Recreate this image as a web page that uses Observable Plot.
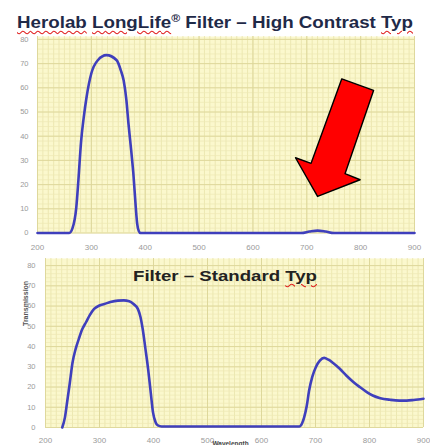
<!DOCTYPE html>
<html><head><meta charset="utf-8">
<script src="https://cdn.jsdelivr.net/npm/d3@7"></script>
<script src="https://cdn.jsdelivr.net/npm/@observablehq/plot@0.6"></script>
<style>
body{margin:0;background:#fff;width:430px;height:445px;overflow:hidden;position:relative;font-family:"Liberation Sans",Arial,sans-serif}
.t{position:absolute;white-space:nowrap;font-weight:bold;transform-origin:0 0}
.sp{text-decoration:underline wavy #e02020;text-decoration-thickness:1px;text-underline-offset:2px}
#top,#bot{position:absolute;left:0}
</style></head><body>
<div id="top" style="top:30px"></div>
<div id="bot" style="top:255px"></div>
<div class="t" id="t1" style="left:17px;top:14px;font-size:17px;line-height:17px;color:#1f2a48"><span class="sp">Herolab</span> <span class="sp">LongLife</span><span style="font-size:11px;vertical-align:6px;line-height:0">®</span> Filter – High Contrast <span class="sp">Typ</span></div>
<div class="t" id="t2" style="left:133px;top:268px;font-size:15px;line-height:15px;color:#222">Filter – Standard <span class="sp">Typ</span></div>
<script>
// ---- data ----
const xTicks = [200, 300, 400, 500, 600, 700, 800, 900];
const yTicks = [0, 10, 20, 30, 40, 50, 60, 70, 80];

// High Contrast Typ
const wlTop  = [200, 240, 255, 259, 265, 272, 276, 281, 286, 291, 300, 312, 328, 347, 355, 360, 365, 369, 374, 378, 382, 385, 388, 391, 420, 690, 705, 720, 735, 750, 900];
const valTop = [0,   0,   0,   0,   2,   10.5, 22, 38,  48,  56,  66,  71.4, 73.5, 71.4, 67, 63,  55,  45,  34,  24.5, 12, 4,   0.8, 0,   0,   0,   0.6, 1,   0.6, 0,   0];

// Standard Typ
const wlBot  = [231, 236, 240, 245, 250, 256, 262, 268, 275, 282, 290, 300, 309, 320, 334, 345, 355, 363, 371, 376, 380, 385, 390, 395, 399, 404, 408, 415, 670, 675, 679, 684, 688, 694, 701, 708, 716, 724, 732, 745, 757, 770, 782, 795, 806, 820, 838, 855, 869, 882, 894, 900];
const valBot = [0,   5,   12.5, 22, 32,  39,  44,  48.5, 52, 55.5, 58.6, 60.3, 61, 62,  62.7, 62.8, 62.4, 61, 58.6, 54.5, 48.7, 39, 29,  17,  7.6, 2.5, 1,   0.5, 0.5, 2,   5,   11,  18,  25,  30,  33,  34.4, 33.5, 32, 29,  25.7, 22.5, 20,  17.5, 15.8, 14.5, 13.7, 13.3, 13.3, 13.6, 14, 14.2];

// red arrow annotation (wavelength, transmission) in the top panel
const arrowWl  = [765, 824, 771, 799, 720, 679, 708, 765];
const arrowVal = [63.7, 58.9, 24.5, 22, 15.1, 31.1, 28.8, 63.7];

const topData = wlTop.map((w, i) => ({w, v: valTop[i]}));
const botData = wlBot.map((w, i) => ({w, v: valBot[i]}));
const arrowData = arrowWl.map((w, i) => ({w, v: arrowVal[i]}));

const minorX = d3.range(200, 901, 10);
const minorY = d3.range(0, 82, 2);
const font = "Liberation Sans, Arial, sans-serif";
const lineColor = "#3f3fbc";

function panel({data, width, height, mL, mR, mT, mB, yMax, extra = [], padX, padY}) {
  return Plot.plot({
    width, height, marginLeft: mL, marginRight: mR, marginTop: mT, marginBottom: mB,
    style: {fontFamily: font, background: "transparent", overflow: "visible"},
    x: {domain: [200, 900], label: null},
    y: {domain: [0, yMax], label: null},
    marks: [
      Plot.frame({fill: "#fbf8cd", stroke: null}),
      Plot.ruleX(minorX, {stroke: "#e9e3ab", strokeWidth: 0.8}),
      Plot.ruleY(minorY, {stroke: "#eee8b4", strokeWidth: 0.7}),
      Plot.ruleX(xTicks, {stroke: "#ddd698", strokeWidth: 0.9}),
      Plot.ruleY(yTicks, {stroke: "#ddd698", strokeWidth: 0.9}),
      Plot.axisX(xTicks, {tickSize: 0, tickPadding: padX, fontSize: 8, fill: "#9a9a9a", label: null}),
      Plot.axisY(yTicks, {tickSize: 0, tickPadding: padY, fontSize: 7.5, fill: "#9a9a9a", label: null}),
      Plot.line(data, {x: "w", y: "v", stroke: lineColor, strokeWidth: 2.6, curve: "monotone-x"}),
      ...extra
    ]
  });
}

const topPlot = panel({
  data: topData, width: 430, height: 224, mL: 37, mR: 16, mT: 6, mB: 21.5, yMax: 81.2, padX: 11, padY: 9,
  extra: [
    Plot.line(arrowData, {x: "w", y: "v", fill: "#ff0000", stroke: "#000", strokeWidth: 1.4, curve: "linear"})
  ]
});
document.getElementById("top").append(topPlot);

const botPlot = panel({
  data: botData, width: 430, height: 190, mL: 45, mR: 7, mT: 3, mB: 18, yMax: 83.5, padX: 10, padY: 10,
  extra: [
    Plot.text(["Transmission"], {frameAnchor: "left", dx: -20, dy: -17, rotate: -90, fontSize: 7, fontWeight: "bold", fill: "#555"}),
    Plot.text(["Wavelength"], {frameAnchor: "bottom", dy: 18, dx: -4, fontSize: 6.5, fontWeight: "bold", fill: "#444"})
  ]
});
document.getElementById("bot").append(botPlot);

// fit title widths to the reference
function fit(id, target) {
  const el = document.getElementById(id);
  const w = el.getBoundingClientRect().width;
  el.style.transform = `scaleX(${target / w})`;
}
fit("t1", 396);
fit("t2", 184);
</script>
</body></html>
